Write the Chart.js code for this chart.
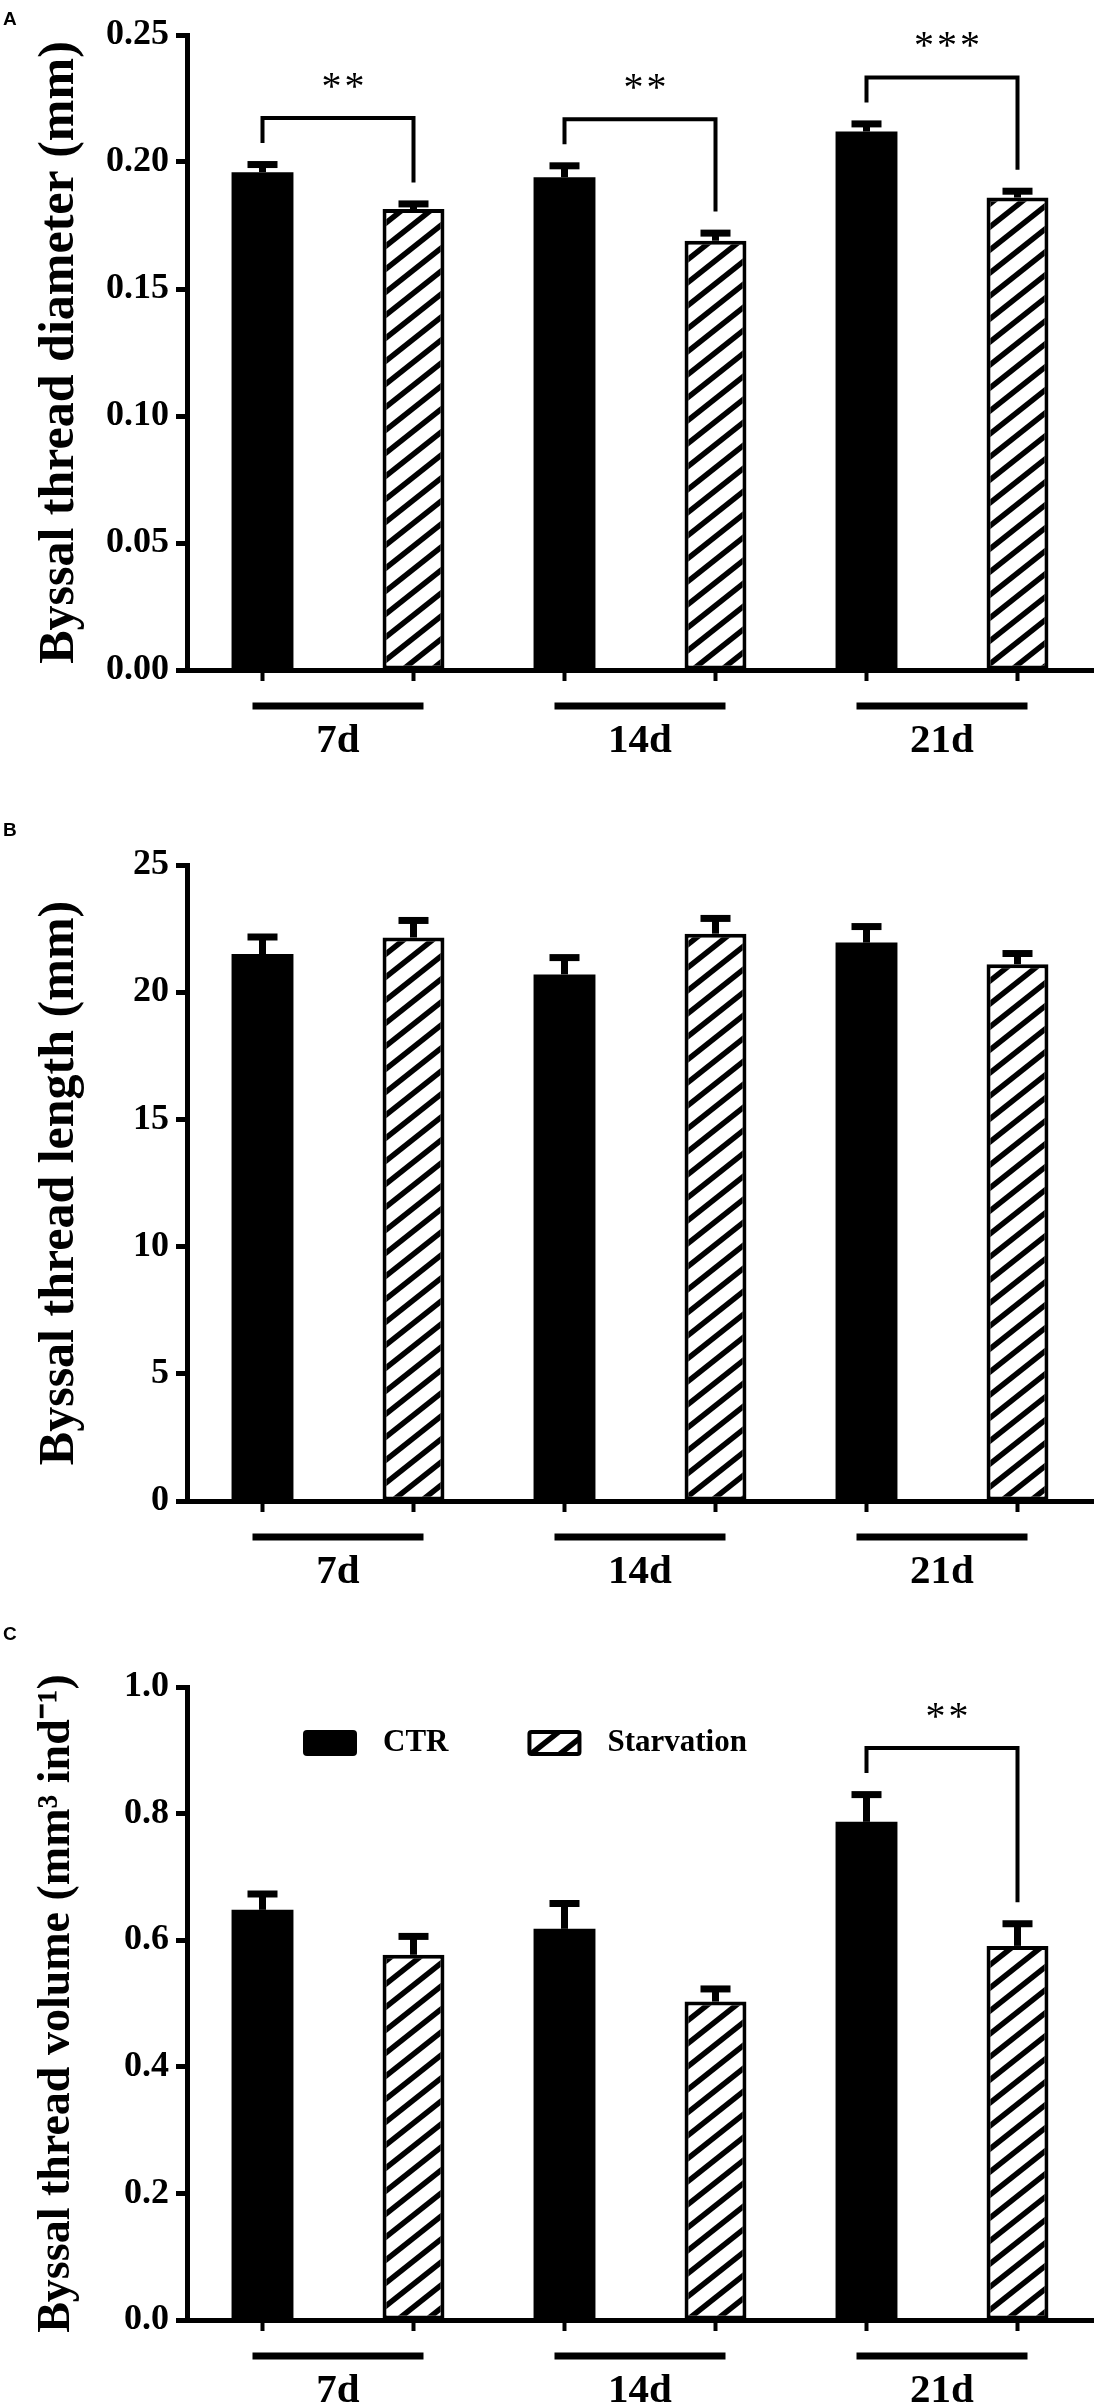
<!DOCTYPE html>
<html>
<head>
<meta charset="utf-8">
<script src="https://cdn.jsdelivr.net/npm/chart.js@4.4.1/dist/chart.umd.min.js"></script>
<style>
  body { margin: 0; background: #fff; }
  canvas { position: absolute; left: 0; }
  .tag { position: absolute; left: 3px; z-index: 2; font: bold 19px "Liberation Sans", Arial, sans-serif; }
</style>
</head>
<body>
<canvas id="chartA" style="top:0" width="1096" height="800"></canvas>
<canvas id="chartB" style="top:800px" width="1096" height="800"></canvas>
<canvas id="chartC" style="top:1600px" width="1096" height="807"></canvas>
<div class="tag" style="top:8px">A</div>
<div class="tag" style="top:819px">B</div>
<div class="tag" style="top:1623px">C</div>
<script>
// Byssal thread traits, CTR vs Starvation, mean + SE

const groups = ['7d', '14d', '21d'];
const seriesNames = ['CTR', 'Starvation'];

// A - diameter (mm)
const diameterCtr = [0.196, 0.194, 0.212];
const diameterCtrErr = [0.003, 0.0045, 0.003];
const diameterStarv = [0.1815, 0.169, 0.186];
const diameterStarvErr = [0.002, 0.003, 0.0025];
const diameterStars = ['**', '**', '***'];

// B - length (mm)
const lengthCtr = [21.5, 20.7, 21.95];
const lengthCtrErr = [0.67, 0.66, 0.63];
const lengthStarv = [22.15, 22.3, 21.1];
const lengthStarvErr = [0.67, 0.6, 0.42];
const lengthStars = ['', '', ''];

// C - volume (mm3 ind-1)
const volumeCtr = [0.648, 0.618, 0.787];
const volumeCtrErr = [0.025, 0.04, 0.043];
const volumeStarv = [0.577, 0.503, 0.591];
const volumeStarvErr = [0.029, 0.02, 0.035];
const volumeStars = ['', '', '**'];

const SERIF = '"Liberation Serif", "Times New Roman", serif';
Chart.defaults.font.family = SERIF;
Chart.defaults.color = '#000';

function makeHatch() {
    const c = document.createElement('canvas');
    const w = 29, h = 23;
    c.width = w; c.height = h;
    const g = c.getContext('2d');
    g.fillStyle = '#fff';
    g.fillRect(0, 0, w, h);
    g.strokeStyle = '#000';
    g.lineWidth = 5.5;
    for (let k = -1; k <= 2; k++) {
        g.beginPath();
        g.moveTo(-w, h * (2 + k));
        g.lineTo(2 * w, h * (k - 1));
        g.stroke();
    }
    return g.createPattern(c, 'repeat');
}
const hatch = makeHatch();

// one category per bar: CTR 7d, Starvation 7d, CTR 14d, ...
const barLabels = [];
groups.forEach(g => seriesNames.forEach(s => barLabels.push(s + ' ' + g)));
const spread = (vals, slot) => barLabels.map((_, i) => i % 2 === slot ? vals[Math.floor(i / 2)] : null);

function extras(cfg) {
    return {
        id: 'extras',
        afterDatasetsDraw(chart) {
            const ctx = chart.ctx;
            const y = chart.scales.y;
            const area = chart.chartArea;
            const barX = [], capTop = [];
            ctx.save();
            ctx.strokeStyle = '#000';
            ctx.fillStyle = '#000';

            // error bars (upper only)
            chart.data.datasets.forEach((ds, di) => {
                const meta = chart.getDatasetMeta(di);
                ds.data.forEach((v, i) => {
                    if (v == null) return;
                    const bar = meta.data[i];
                    const ye = y.getPixelForValue(v + ds.errors[i]);
                    ctx.lineWidth = 7;
                    ctx.beginPath();
                    ctx.moveTo(bar.x, bar.y);
                    ctx.lineTo(bar.x, ye);
                    ctx.stroke();
                    ctx.beginPath();
                    ctx.moveTo(bar.x - 15, ye);
                    ctx.lineTo(bar.x + 15, ye);
                    ctx.stroke();
                    barX[i] = bar.x;
                    capTop[i] = ye - 3.5;
                });
            });

            // significance brackets
            cfg.stars.forEach((s, g) => {
                if (!s) return;
                const i0 = 2 * g, i1 = 2 * g + 1;
                const yl = capTop[i0] - 18, yr = capTop[i1] - 18;
                const yt = Math.min(yl, yr) - 25;
                ctx.lineWidth = 4;
                ctx.beginPath();
                ctx.moveTo(barX[i0], yl);
                ctx.lineTo(barX[i0], yt);
                ctx.lineTo(barX[i1], yt);
                ctx.lineTo(barX[i1], yr);
                ctx.stroke();
                ctx.font = '40px ' + SERIF;
                ctx.textAlign = 'center';
                ctx.textBaseline = 'alphabetic';
                const m = ctx.measureText('*');
                const base = yt - 38 + (m.actualBoundingBoxAscent - m.actualBoundingBoxDescent) / 2;
                const cx = (barX[i0] + barX[i1]) / 2 + 5;
                for (let k = 0; k < s.length; k++) {
                    ctx.fillText('*', cx + (k - (s.length - 1) / 2) * 23, base);
                }
            });

            // group underlines
            ctx.lineWidth = 7;
            groups.forEach((g, gi) => {
                ctx.beginPath();
                ctx.moveTo(barX[2 * gi] - 10, area.bottom + 36);
                ctx.lineTo(barX[2 * gi + 1] + 10, area.bottom + 36);
                ctx.stroke();
            });

            // legend inside the plot
            if (cfg.legend) {
                let lx = area.left + 116;
                const ly = area.top + 56;
                ctx.font = 'bold 31px ' + SERIF;
                ctx.textAlign = 'left';
                ctx.textBaseline = 'middle';
                chart.data.datasets.forEach(ds => {
                    ctx.fillStyle = ds.borderColor;
                    ctx.beginPath();
                    ctx.roundRect(lx, ly - 13, 54, 26, 4);
                    ctx.fill();
                    if (ds.borderWidth) {
                        ctx.fillStyle = ds.backgroundColor;
                        ctx.fillRect(lx + 4, ly - 9, 46, 18);
                    }
                    ctx.fillStyle = '#000';
                    ctx.fillText(ds.label, lx + 80, ly);
                    lx += 80 + ctx.measureText(ds.label).width + 79;
                });
            }
            ctx.restore();
        }
    };
}

function buildPanel(id, p) {
    return new Chart(document.getElementById(id), {
        type: 'bar',
        data: {
            labels: barLabels,
            datasets: [
                {
                    label: seriesNames[0],
                    data: spread(p.ctr, 0),
                    errors: spread(p.ctrErr, 0),
                    backgroundColor: '#000',
                    borderColor: '#000',
                    borderWidth: 0
                },
                {
                    label: seriesNames[1],
                    data: spread(p.starv, 1),
                    errors: spread(p.starvErr, 1),
                    backgroundColor: hatch,
                    borderColor: '#000',
                    borderWidth: 4,
                    borderSkipped: false
                }
            ]
        },
        options: {
            responsive: false,
            animation: false,
            devicePixelRatio: 1,
            layout: { padding: { top: p.top, right: 3, bottom: 0, left: 0 } },
            datasets: { bar: { categoryPercentage: 1, barPercentage: 0.41, skipNull: true } },
            plugins: { legend: { display: false }, tooltip: { enabled: false } },
            scales: {
                x: {
                    type: 'category',
                    position: 'bottom',
                    ticks: { display: false },
                    grid: { offset: false, drawOnChartArea: false, drawTicks: true, tickLength: 11, tickWidth: 4, tickColor: '#000' },
                    border: { display: true, color: '#000', width: 5 },
                    afterFit: s => { s.height = 12; }
                },
                x2: {
                    type: 'category',
                    labels: groups,
                    position: 'bottom',
                    weight: 1,
                    offset: true,
                    grid: { display: false, drawTicks: false },
                    border: { display: false },
                    ticks: { color: '#000', font: { size: 41, weight: 'bold' }, padding: 35 },
                    afterFit: s => { s.height = p.x2h; }
                },
                y: {
                    min: 0,
                    max: p.max,
                    ticks: {
                        stepSize: p.step,
                        padding: 7,
                        color: '#000',
                        font: { size: 36, weight: 'bold' },
                        callback: v => v.toFixed(p.decimals)
                    },
                    grid: { drawOnChartArea: false, drawTicks: true, tickLength: 11, tickWidth: 5, tickColor: '#000' },
                    border: { display: true, color: '#000', width: 5 },
                    title: {
                        display: true,
                        text: p.title,
                        color: '#000',
                        font: { size: p.titleSize, weight: 'bold' },
                        padding: { top: 30, bottom: 0 }
                    },
                    afterFit: s => { s.width = 187; }
                }
            }
        },
        plugins: [extras({ stars: p.stars, legend: p.legend })]
    });
}

buildPanel('chartA', {
    ctr: diameterCtr, ctrErr: diameterCtrErr, starv: diameterStarv, starvErr: diameterStarvErr,
    stars: diameterStars, max: 0.25, step: 0.05, decimals: 2,
    title: 'Byssal thread diameter (mm)', titleSize: 50, top: 35, x2h: 118, legend: false
});
buildPanel('chartB', {
    ctr: lengthCtr, ctrErr: lengthCtrErr, starv: lengthStarv, starvErr: lengthStarvErr,
    stars: lengthStars, max: 25, step: 5, decimals: 0,
    title: 'Byssal thread length (mm)', titleSize: 50, top: 65, x2h: 87, legend: false
});
buildPanel('chartC', {
    ctr: volumeCtr, ctrErr: volumeCtrErr, starv: volumeStarv, starvErr: volumeStarvErr,
    stars: volumeStars, max: 1.0, step: 0.2, decimals: 1,
    title: 'Byssal thread volume (mm³ ind⁻¹)', titleSize: 46, top: 87, x2h: 75, legend: true
});
</script>
</body>
</html>
